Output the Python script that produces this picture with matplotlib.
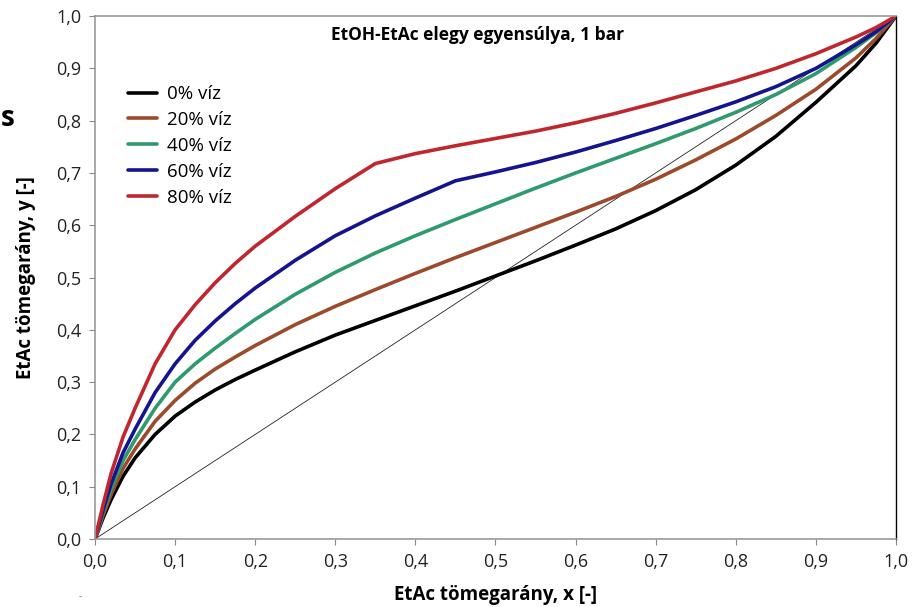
import matplotlib.pyplot as plt
from matplotlib.ticker import FuncFormatter

# EtAc tömegarány a folyadékban (x) és a gőzben (y)
x_ertekek = [0.0, 0.01, 0.02, 0.035, 0.05, 0.075, 0.10, 0.125, 0.15, 0.175, 0.20,
             0.25, 0.30, 0.35, 0.40, 0.45, 0.50, 0.55, 0.60, 0.65, 0.70, 0.75,
             0.80, 0.85, 0.90, 0.95, 0.975, 1.0]

y_0_viz = [0.0, 0.04, 0.075, 0.12, 0.155, 0.20, 0.235, 0.262, 0.285, 0.305, 0.323,
           0.358, 0.39, 0.418, 0.446, 0.474, 0.503, 0.532, 0.562, 0.593, 0.628, 0.668,
           0.715, 0.77, 0.835, 0.905, 0.948, 1.0]
y_20_viz = [0.0, 0.045, 0.085, 0.135, 0.172, 0.225, 0.265, 0.298, 0.325, 0.348, 0.37,
            0.41, 0.445, 0.477, 0.508, 0.538, 0.567, 0.596, 0.625, 0.655, 0.688, 0.725,
            0.765, 0.81, 0.86, 0.92, 0.957, 1.0]
y_40_viz = [0.0, 0.05, 0.095, 0.15, 0.19, 0.25, 0.30, 0.335, 0.365, 0.393, 0.42,
            0.468, 0.51, 0.547, 0.58, 0.611, 0.641, 0.671, 0.70, 0.728, 0.756, 0.785,
            0.816, 0.85, 0.89, 0.94, 0.968, 1.0]
y_60_viz = [0.0, 0.055, 0.105, 0.165, 0.21, 0.28, 0.335, 0.38, 0.417, 0.45, 0.48,
            0.533, 0.58, 0.618, 0.652, 0.685, 0.702, 0.72, 0.74, 0.762, 0.785, 0.81,
            0.836, 0.865, 0.90, 0.945, 0.97, 1.0]
y_80_viz = [0.0, 0.065, 0.125, 0.195, 0.25, 0.335, 0.40, 0.448, 0.49, 0.527, 0.56,
            0.617, 0.67, 0.718, 0.737, 0.752, 0.766, 0.78, 0.796, 0.814, 0.834, 0.855,
            0.876, 0.90, 0.928, 0.96, 0.978, 1.0]

sorozat_nevek = ['0% víz', '20% víz', '40% víz', '60% víz', '80% víz']
szinek = ['#000000', '#9c4a2c', '#2e9a6e', '#14148f', '#c0262d']
tengely_ertekek = [0.0, 0.1, 0.2, 0.3, 0.4, 0.5, 0.6, 0.7, 0.8, 0.9, 1.0]

plt.rcParams['font.family'] = ['Open Sans', 'DejaVu Sans']

fig = plt.figure(figsize=(9.18, 6.07), dpi=100)
ax = fig.add_axes([0.1035, 0.112, 0.8725, 0.8615])

# átló (x = y)
ax.plot([0, 1], [0, 1], color='#222222', linewidth=0.6)

sorozatok = [y_0_viz, y_20_viz, y_40_viz, y_60_viz, y_80_viz]
for y_ertekek, nev, szin in zip(sorozatok, sorozat_nevek, szinek):
	ax.plot(x_ertekek, y_ertekek, color=szin, linewidth=2.6, label=nev,
			solid_capstyle='round', solid_joinstyle='round')

ax.set_xlim(0, 1)
ax.set_ylim(0, 1)
ax.set_xticks(tengely_ertekek)
ax.set_yticks(tengely_ertekek)
vesszos = FuncFormatter(lambda v, _: f'{v:.1f}'.replace('.', ','))
ax.xaxis.set_major_formatter(vesszos)
ax.yaxis.set_major_formatter(vesszos)
ax.tick_params(direction='out', length=4, width=0.8, colors='#888888',
			   labelcolor='#222222', labelsize=13, pad=6)

for oldal in ['left', 'bottom', 'top']:
	ax.spines[oldal].set_color('#999999')
	ax.spines[oldal].set_linewidth(1.2)
ax.spines['right'].set_color('#000000')
ax.spines['right'].set_linewidth(1.0)

ax.set_xlabel('EtAc tömegarány, x [-]', fontsize=13.5, fontweight='bold', labelpad=10)
ax.set_ylabel('EtAc tömegarány, y [-]', fontsize=13.5, fontweight='bold', labelpad=14)
ax.text(0.477, 0.964, 'EtOH-EtAc elegy egyensúlya, 1 bar', transform=ax.transAxes,
		ha='center', va='center', fontsize=12.5, fontweight='bold')

ax.legend(loc='upper left', bbox_to_anchor=(0.041, 0.868), frameon=False,
		  fontsize=13.5, handlelength=1.55, handletextpad=0.53, labelspacing=0.42,
		  borderaxespad=0, borderpad=0)

# a kivágott eredeti kép maradványai
fig.text(0.001, 0.805, 's', fontsize=20, fontweight='bold', ha='left', va='center')
fig.text(0.087, 0.017, '-', fontsize=7, color='#777777', ha='center', va='center')

fig.savefig('out.png', dpi=100)
